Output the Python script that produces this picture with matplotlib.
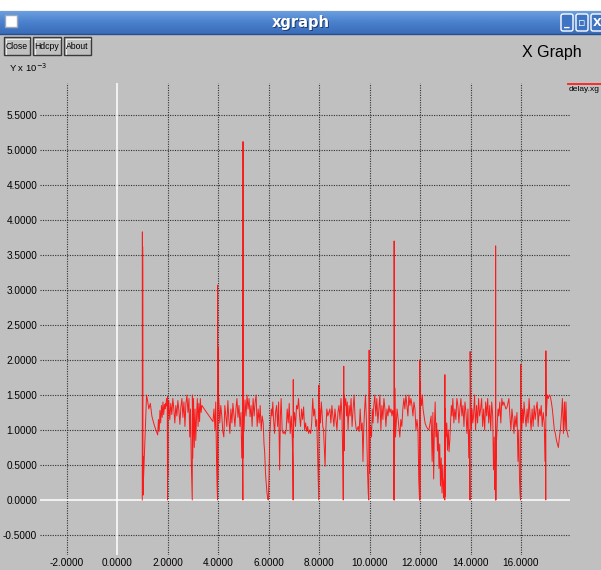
import matplotlib
matplotlib.use("Agg")
import matplotlib.pyplot as plt
from matplotlib import font_manager
from matplotlib.patches import Rectangle, FancyBboxPatch
import numpy as np

# delay trace (time in s, delay in units of 1e-3)
time_s = [
    1.00, 1.005, 1.01, 1.015, 1.02, 1.03, 1.04, 1.05, 1.17, 1.21, 1.26, 1.32, 1.38, 1.45, 1.52,
    1.61, 1.64, 1.67, 1.70, 1.73, 1.76, 1.79, 1.82, 1.85, 1.88, 1.90, 1.92, 1.94, 1.96,
    1.99, 2.00, 2.005, 2.01, 2.015, 2.05, 2.09, 2.13, 2.17, 2.21, 2.25, 2.29, 2.33, 2.37, 2.41,
    2.45, 2.49, 2.53, 2.57, 2.61, 2.65, 2.69, 2.73, 2.77, 2.81, 2.85, 2.88, 2.91, 2.94, 2.96,
    2.98, 2.985, 3.00, 3.03, 3.06, 3.09, 3.12, 3.15, 3.18, 3.21, 3.24, 3.27, 3.30, 3.33, 3.36,
    3.80, 3.84, 3.88, 3.91, 3.94, 3.96,
    3.98, 3.985, 3.99, 3.995, 4.00, 4.03, 4.07, 4.11, 4.15, 4.19, 4.23, 4.27, 4.31, 4.35, 4.39,
    4.43, 4.47, 4.51, 4.55, 4.59, 4.63, 4.67, 4.71, 4.75, 4.79, 4.83, 4.87, 4.91, 4.94, 4.97,
    4.985, 4.99, 4.995, 5.00, 5.005, 5.03, 5.07, 5.11, 5.15, 5.19, 5.23, 5.27, 5.31, 5.35, 5.39,
    5.43, 5.47, 5.51, 5.55, 5.59, 5.63, 5.67, 5.71, 5.75, 5.79, 5.82, 5.85, 5.88, 5.91, 5.94,
    5.97, 5.99,
    6.02, 6.05, 6.08, 6.11, 6.14, 6.17, 6.20, 6.24, 6.28, 6.32, 6.36, 6.40, 6.44, 6.47, 6.50,
    6.54, 6.58, 6.62, 6.66, 6.70, 6.74, 6.78, 6.82, 6.86, 6.90, 6.94, 6.96,
    6.975, 6.98, 6.985, 7.00, 7.03, 7.07, 7.11, 7.15, 7.19, 7.23, 7.27, 7.31, 7.35, 7.39, 7.43,
    7.47, 7.51, 7.55, 7.59, 7.63, 7.67, 7.71, 7.75, 7.79, 7.83, 7.87, 7.91, 7.95, 7.99,
    7.995, 8.00, 8.03, 8.06, 8.09, 8.12, 8.15, 8.18, 8.21, 8.24, 8.27, 8.31, 8.35, 8.39, 8.43,
    8.47, 8.51, 8.55, 8.59, 8.63, 8.67, 8.71, 8.75, 8.79, 8.83, 8.87, 8.91, 8.94, 8.96, 8.98,
    8.99, 9.00, 9.03, 9.06, 9.09, 9.12, 9.15, 9.19, 9.23, 9.27, 9.31, 9.35, 9.39, 9.43, 9.47,
    9.51, 9.55, 9.59, 9.63, 9.67, 9.71, 9.74, 9.77, 9.80, 9.84, 9.88, 9.92, 9.95, 9.97, 9.985,
    9.99, 10.00, 10.02, 10.05, 10.08, 10.11, 10.14, 10.17, 10.21, 10.25, 10.29, 10.33, 10.37,
    10.41, 10.45, 10.49, 10.53, 10.57, 10.61, 10.65, 10.69, 10.73, 10.77, 10.81, 10.85, 10.89,
    10.92, 10.95, 10.97,
    10.975, 10.98, 10.985, 11.00, 11.03, 11.06, 11.09, 11.12, 11.16, 11.20, 11.24, 11.28, 11.32,
    11.36, 11.40, 11.44, 11.48, 11.52, 11.56, 11.60, 11.64, 11.68, 11.72, 11.76, 11.80, 11.84,
    11.88, 11.92, 11.95, 11.98,
    11.99, 11.995, 12.00, 12.03, 12.06, 12.09, 12.12, 12.16, 12.20, 12.25, 12.30, 12.35, 12.40,
    12.44, 12.48, 12.51, 12.54, 12.57, 12.60, 12.63, 12.66, 12.69, 12.72, 12.75, 12.78, 12.81,
    12.84, 12.87, 12.90, 12.93, 12.96, 12.98,
    12.985, 12.99, 13.00, 13.03, 13.06, 13.09, 13.12, 13.15, 13.18, 13.21, 13.24, 13.27, 13.30,
    13.34, 13.38, 13.42, 13.46, 13.50, 13.54, 13.58, 13.62, 13.66, 13.70, 13.74, 13.78, 13.82,
    13.86, 13.90, 13.93, 13.96, 13.98,
    13.985, 13.99, 14.00, 14.03, 14.06, 14.09, 14.12, 14.16, 14.20, 14.24, 14.28, 14.32, 14.36,
    14.40, 14.44, 14.48, 14.52, 14.56, 14.60, 14.64, 14.68, 14.72, 14.76, 14.80, 14.84, 14.88,
    14.91, 14.94, 14.96, 14.98,
    14.99, 14.995, 15.00, 15.005, 15.01, 15.03, 15.06, 15.09, 15.12, 15.16, 15.20, 15.24, 15.28,
    15.32, 15.36, 15.40, 15.44, 15.48, 15.52, 15.56, 15.60, 15.64, 15.68, 15.72, 15.76, 15.80,
    15.84, 15.88, 15.91, 15.94, 15.96, 15.98,
    15.99, 16.00, 16.03, 16.06, 16.09, 16.12, 16.16, 16.20, 16.24, 16.28, 16.32, 16.36, 16.40,
    16.44, 16.48, 16.52, 16.56, 16.60, 16.64, 16.68, 16.72, 16.76, 16.80, 16.84, 16.88, 16.92,
    16.95, 16.97, 16.98,
    16.985, 16.99, 17.00, 17.04, 17.08, 17.12, 17.16, 17.20, 17.24, 17.28, 17.32, 17.36, 17.40,
    17.44, 17.48, 17.52, 17.56, 17.60, 17.64, 17.68, 17.72, 17.75, 17.78, 17.81, 17.84, 17.87,
]
delay_ms = [
    0.00, 3.83, 0.70, 3.62, 3.17, 0.07, 0.62, 0.30, 1.50, 1.42, 1.30, 1.38, 1.20, 1.10, 1.02,
    0.93, 1.15, 0.98, 1.28, 1.10, 1.35, 1.18, 1.40, 1.22, 1.36, 1.30, 1.38, 1.34, 1.45,
    1.40, 0.00, 1.48, 0.33, 1.20, 1.42, 1.15, 1.38, 1.22, 1.45, 1.30, 1.10, 1.35, 1.20, 1.42,
    1.28, 1.08, 1.33, 1.45, 1.18, 1.40, 1.05, 1.38, 1.50, 1.25, 1.45, 0.90, 1.30, 0.55, 0.25,
    0.00, 1.50, 0.60, 1.45, 0.75, 1.30, 0.85, 1.20, 1.45, 1.05, 1.38, 1.12, 1.45, 1.25, 1.35,
    1.12, 1.30, 1.00, 1.40, 0.60, 0.24,
    0.00, 3.07, 0.30, 2.19, 1.50, 1.45, 1.10, 1.35, 1.20, 0.98, 0.90, 1.35, 1.20, 1.05, 1.42,
    1.15, 0.95, 1.30, 1.10, 1.38, 1.22, 1.05, 1.30, 1.45, 1.18, 1.35, 1.05, 1.25, 0.60, 0.95,
    0.00, 5.12, 0.60, 3.01, 0.95, 1.00, 1.43, 1.20, 1.50, 1.30, 1.45, 1.19, 1.35, 1.05, 1.45,
    1.20, 1.40, 1.50, 1.05, 1.30, 1.10, 1.35, 1.00, 1.20, 1.10, 0.81, 0.67, 0.38, 0.24, 0.10,
    0.02, 0.00,
    0.33, 0.95, 1.10, 1.30, 1.20, 1.40, 1.15, 0.95, 1.25, 1.35, 1.05, 1.40, 0.43, 1.20, 1.45,
    1.00, 0.95, 0.98, 0.94, 1.00, 1.30, 1.10, 1.38, 0.95, 1.20, 0.90, 0.55,
    0.00, 1.72, 0.90, 1.10, 1.25, 1.05, 1.35, 1.30, 1.45, 1.20, 1.05, 1.30, 1.15, 1.33, 1.00,
    1.10, 0.98, 1.05, 0.95, 1.00, 0.95, 1.10, 1.45, 1.20, 1.30, 1.05, 1.15, 0.57, 0.00,
    1.64, 1.00, 1.30, 1.10, 1.40, 1.25, 1.05, 1.00, 0.75, 0.48, 1.00, 1.30, 1.20, 1.25, 1.30,
    1.10, 1.35, 1.20, 1.05, 1.30, 1.15, 1.00, 1.25, 1.35, 1.15, 1.45, 1.20, 0.60, 0.00, 1.91,
    0.70, 1.50, 1.35, 1.45, 1.20, 1.40, 1.00, 1.35, 1.20, 1.45, 1.05, 1.30, 1.50, 1.15, 1.02,
    1.00, 1.05, 0.98, 1.30, 1.00, 1.10, 0.55, 1.00, 1.25, 1.50, 1.10, 0.43, 0.10, 0.00, 2.14,
    1.71, 0.38, 0.90, 1.05, 0.90, 1.30, 1.10, 1.35, 1.50, 1.20, 1.45, 1.10, 1.30,
    1.50, 1.00, 1.35, 1.15, 1.45, 1.30, 1.05, 1.30, 1.20, 1.35, 1.25, 1.30, 1.20,
    1.28, 1.22, 0.00,
    3.70, 2.74, 0.00, 1.60, 0.90, 1.10, 1.30, 1.20, 1.05, 0.90, 1.15, 1.05, 1.30,
    1.45, 1.30, 1.50, 1.35, 1.20, 1.50, 1.35, 1.45, 1.35, 1.20, 1.40, 1.30, 1.00,
    1.15, 1.00, 0.30, 0.00,
    2.00, 0.00, 1.70, 1.45, 1.35, 1.50, 1.30, 1.20, 1.10, 1.05, 1.02, 1.00, 1.10,
    1.20, 0.55, 1.25, 0.30, 1.05, 1.40, 0.90, 1.10, 0.70, 1.00, 0.45, 0.80, 0.20,
    0.60, 0.10, 0.50, 0.03, 0.30, 0.00,
    1.79, 0.05, 1.30, 0.90, 1.10, 0.71, 1.00, 0.69, 0.85, 1.10, 1.35, 1.20, 1.45,
    1.10, 1.30, 1.15, 1.45, 1.35, 1.10, 1.30, 1.45, 1.20, 1.35, 1.05, 1.40, 1.25,
    0.95, 1.30, 0.60, 1.00, 0.00,
    2.12, 1.90, 1.62, 1.00, 1.30, 1.10, 1.20, 1.50, 1.00, 1.35, 1.10, 1.45, 1.20,
    1.30, 1.45, 1.05, 1.30, 1.00, 1.40, 1.20, 1.45, 1.10, 1.35, 1.00, 1.40, 1.20,
    0.43, 0.90, 0.15, 0.40,
    0.00, 3.63, 1.81, 0.00, 0.50, 0.85, 1.10, 1.30, 1.20, 1.40, 1.10, 1.45, 1.35,
    1.40, 1.35, 1.30, 1.32, 1.38, 1.45, 1.20, 1.00, 1.30, 1.15, 0.95, 1.20, 1.05,
    1.25, 0.55, 1.00, 0.30, 0.10, 0.00,
    1.94, 1.25, 1.00, 1.30, 1.10, 1.40, 1.20, 1.05, 1.30, 1.10, 1.45, 1.20, 1.00,
    1.30, 1.05, 1.35, 1.15, 1.30, 1.40, 1.05, 1.30, 1.20, 1.35, 1.05, 1.25, 1.10,
    0.55, 1.00, 0.00,
    2.13, 1.76, 1.20, 1.50, 1.45, 1.50, 1.48, 1.40, 1.30, 1.15, 1.00, 0.95, 0.86,
    0.80, 0.75, 0.90, 1.00, 1.20, 1.45, 0.95, 1.40, 1.00, 1.40, 1.00, 0.95, 0.90,
]

x_ticks = [-2, 0, 2, 4, 6, 8, 10, 12, 14, 16]
y_ticks = [-0.5, 0.0, 0.5, 1.0, 1.5, 2.0, 2.5, 3.0, 3.5, 4.0, 4.5, 5.0, 5.5]
button_labels = ["Close", "Hdcpy", "About"]
window_title = "xgraph"
graph_title = "X Graph"
y_unit = "Y x 10$^{-3}$"
legend_name = "delay.xg"

W, H = 601, 570
GRAY = "#c0c0c0"

installed = {f.name for f in font_manager.fontManager.ttflist}
narrow = "Liberation Sans Narrow" if "Liberation Sans Narrow" in installed else "Liberation Sans"
small_size = 8.3 if narrow == "Liberation Sans Narrow" else 7.2

fig = plt.figure(figsize=(W / 100, H / 100), dpi=100)
fig.patch.set_facecolor("white")

# pixel-space layer for the window chrome
bg = fig.add_axes([0, 0, 1, 1])
bg.set_axis_off()
bg.add_patch(Rectangle((0, 11), W, H - 11, color=GRAY, zorder=0))

# title bar gradient
grad = np.linspace(0, 1, 50).reshape(-1, 1)
bar_cmap = matplotlib.colors.LinearSegmentedColormap.from_list("bar", ["#6b9fe0", "#4a80cc", "#3a6cb8"])
bg.imshow(grad, extent=(0, W, 34, 11), aspect="auto", cmap=bar_cmap, zorder=1)
bg.plot([0, W], [34, 34], color="#25508f", lw=1, zorder=2)
bg.text(W / 2 + 1, 23.5, window_title, color="#1c3d70", fontsize=10.5, fontweight="bold",
        family="DejaVu Sans", ha="center", va="center", zorder=3)
bg.text(W / 2, 22.5, window_title, color="white", fontsize=10.5, fontweight="bold",
        family="DejaVu Sans", ha="center", va="center", zorder=4)
# window menu icon
bg.add_patch(Rectangle((5, 15), 12, 12, facecolor="white", edgecolor="#9aa8bb", lw=1, zorder=3))
# min / max / close boxes
for x0, glyph in [(561, "_"), (576, "▫"), (591, "X")]:
    bg.add_patch(FancyBboxPatch((x0, 14), 12, 17, boxstyle="round,pad=0,rounding_size=2",
                                facecolor="#3f74c2", edgecolor="white", lw=1, zorder=3))
    bg.text(x0 + 6, 23, glyph, color="white", fontsize=8, fontweight="bold",
            family="DejaVu Sans", ha="center", va="center", zorder=4)

# xgraph buttons
for (x0, w), label in zip([(4, 26), (33, 28), (64, 27)], button_labels):
    bg.add_patch(Rectangle((x0, 37), w, 18, facecolor=GRAY, edgecolor="#3a3a3a", lw=1, zorder=3))
    bg.plot([x0 + 1.5, x0 + 1.5, x0 + w - 1.5], [54, 38.5, 38.5], color="#f0f0f0", lw=0.7, zorder=4)
    bg.text(x0 + w / 2, 46.5, label, fontsize=small_size - 1.0, family=narrow,
            ha="center", va="center", zorder=5)

bg.text(552, 53, graph_title, fontsize=12.5 if narrow.endswith("Narrow") else 11.5,
        family=narrow, ha="center", va="center", zorder=5)
bg.text(9, 68, y_unit, fontsize=small_size - 0.4, family=narrow, ha="left", va="center", zorder=5)

# legend entry
bg.plot([568, W], [84, 84], color="#ff2020", lw=1.3, zorder=5)
bg.text(569, 86, legend_name, fontsize=small_size - 1.2, family=narrow, ha="left", va="top", zorder=5)

bg.set_xlim(0, W)
bg.set_ylim(H, 0)

# data area
left, right, top, bottom = 40, 570, 83, 555
ax = fig.add_axes([left / W, 1 - bottom / H, (right - left) / W, (bottom - top) / H])
ax.patch.set_visible(False)
for s in ax.spines.values():
    s.set_visible(False)
ax.set_xlim(-3.05, 17.94)
ax.set_ylim(-0.786, 5.957)

for xv in x_ticks:
    if xv == 0:
        ax.axvline(xv, color="white", lw=1.1, zorder=2)
    else:
        ax.axvline(xv, color="#303030", lw=0.8, ls=(0, (1, 1.2)), zorder=1)
for yv in y_ticks:
    if yv == 0:
        ax.axhline(yv, color="white", lw=1.1, zorder=2)
    else:
        ax.axhline(yv, color="#303030", lw=0.8, ls=(0, (1, 1.2)), zorder=1)

ax.plot(time_s, delay_ms, color="#ff0a0a", lw=0.7, alpha=0.9, zorder=3)

ax.set_xticks(x_ticks)
ax.set_xticklabels([f"{v:.4f}" for v in x_ticks])
ax.set_yticks(y_ticks)
ax.set_yticklabels([f"{v:.4f}" for v in y_ticks])
ax.tick_params(length=0, labelsize=small_size, pad=2)
for lab in ax.get_xticklabels() + ax.get_yticklabels():
    lab.set_family(narrow)

fig.savefig("out.png", dpi=100, facecolor=fig.get_facecolor())
